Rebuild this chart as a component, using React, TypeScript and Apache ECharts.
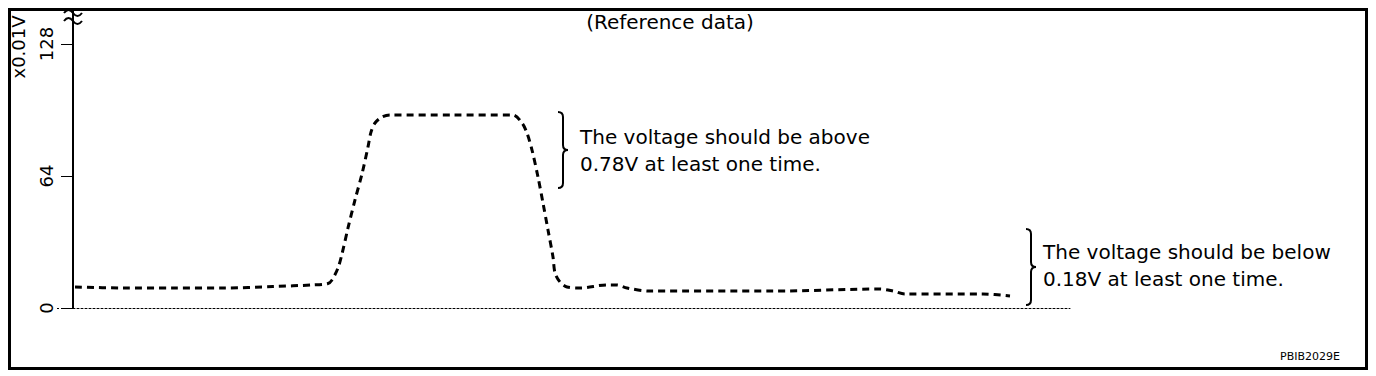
import React, { useEffect, useRef } from "react";
import * as echarts from "echarts";

// Time in arbitrary sample units along the horizontal axis
const timeSteps = [
  2, 50, 100, 150, 200, 240, 255, 259, 265, 269, 275, 282, 289, 295, 298, 302, 309, 317,
  380, 440, 449, 454, 459, 465, 470, 475, 480, 482, 487, 494, 507, 534, 544, 554, 577, 700,
  807, 820, 832, 910, 937,
];
// Sensor voltage (x0.01V)
const voltage = [
  10.2, 9.7, 9.7, 9.7, 10.4, 11.2, 11.9, 13.6, 19.4, 26.2, 38.8, 52.4, 65.0, 78.1, 85.3, 89.7, 92.6, 93.6,
  93.6, 93.6, 89.7, 84.8, 76.6, 63.5, 50.9, 37.8, 24.7, 17.0, 12.6, 10.2, 9.7, 11.2, 11.2, 9.7, 8.2, 8.2,
  9.2, 8.2, 6.8, 6.8, 5.8,
];
const yTicks = [0, 64, 128];
const yUnit = "x0.01V";
const titleText = "(Reference data)";
const noteAbove = ["The voltage should be above", "0.78V at least one time."];
const noteBelow = ["The voltage should be below", "0.18V at least one time."];
const figureCode = "PBIB2029E";

const FONT = "DejaVu Sans";

echarts.graphic.registerShape(
  "brace",
  (echarts.graphic as any).extendPath("M0 0 Q5 0 5 5 L5 33 Q5 38 10 38 Q5 38 5 43 L5 71 Q5 76 0 76", {})
);
echarts.graphic.registerShape(
  "tilde",
  (echarts.graphic as any).extendPath("M0 4 C3 0 6 0 9 4 C12 8 15 8 18 4", {})
);

export default function App() {
  const ref = useRef<HTMLDivElement>(null);

  useEffect(() => {
    if (!ref.current) return;
    const chart = echarts.init(ref.current, undefined, { renderer: "svg" });
    const black = "#000";
    const textStyle = (t: string, size = 20) => ({
      text: t,
      fill: black,
      fontSize: size,
      fontFamily: FONT,
    });
    chart.setOption({
      animation: false,
      backgroundColor: "#fff",
      grid: { left: 73, right: 306, top: 44, bottom: 68, containLabel: false },
      xAxis: {
        type: "value",
        min: 0,
        max: 997,
        axisLine: { show: true, onZero: true, lineStyle: { color: black, width: 1, type: [2, 2] } },
        axisTick: { show: false },
        axisLabel: { show: false },
        splitLine: { show: false },
      },
      yAxis: {
        type: "value",
        min: yTicks[0],
        max: yTicks[yTicks.length - 1],
        interval: yTicks[1] - yTicks[0],
        axisLine: { show: true, lineStyle: { color: black, width: 2 } },
        axisTick: { show: true, length: 12, lineStyle: { color: black, width: 1 } },
        axisLabel: {
          rotate: 90,
          fontSize: 18,
          color: black,
          fontFamily: FONT,
          margin: 18,
        },
        splitLine: { show: false },
      },
      series: [
        {
          type: "line",
          data: timeSteps.map((t, i) => [t, voltage[i]]),
          smooth: 0.3,
          showSymbol: false,
          lineStyle: { color: black, width: 3, type: [7, 5] },
        },
      ],
      graphic: [
        {
          type: "rect",
          shape: { x: 9.5, y: 9.5, width: 1357, height: 359 },
          style: { fill: "none", stroke: black, lineWidth: 3 },
          silent: true,
        },
        {
          type: "line",
          shape: { x1: 73, y1: 10, x2: 73, y2: 44 },
          style: { stroke: black, lineWidth: 2 },
        },
        {
          type: "line",
          shape: { x1: 57, y1: 308.5, x2: 73, y2: 308.5 },
          style: { stroke: black, lineWidth: 1, lineDash: [2, 2] },
        },
        { type: "tilde", x: 64, y: 9, style: { fill: "none", stroke: black, lineWidth: 2 } },
        { type: "tilde", x: 64, y: 17, style: { fill: "none", stroke: black, lineWidth: 2 } },
        {
          type: "text",
          x: 18,
          y: 47,
          rotation: Math.PI / 2,
          style: { ...textStyle(yUnit, 18), align: "center", verticalAlign: "middle" },
        },
        {
          type: "text",
          x: 670,
          y: 22,
          style: { ...textStyle(titleText), align: "center", verticalAlign: "middle" },
        },
        { type: "brace", x: 558, y: 112, style: { fill: "none", stroke: black, lineWidth: 2 } },
        {
          type: "text",
          x: 580,
          y: 137,
          style: { ...textStyle(noteAbove[0]), verticalAlign: "middle" },
        },
        {
          type: "text",
          x: 580,
          y: 164,
          style: { ...textStyle(noteAbove[1]), verticalAlign: "middle" },
        },
        { type: "brace", x: 1026, y: 229, style: { fill: "none", stroke: black, lineWidth: 2 } },
        {
          type: "text",
          x: 1043,
          y: 252,
          style: { ...textStyle(noteBelow[0]), verticalAlign: "middle" },
        },
        {
          type: "text",
          x: 1043,
          y: 279,
          style: { ...textStyle(noteBelow[1]), verticalAlign: "middle" },
        },
        {
          type: "text",
          x: 1340,
          y: 356,
          style: { ...textStyle(figureCode, 11), align: "right", verticalAlign: "middle" },
        },
      ],
    });
    return () => chart.dispose();
  }, []);

  return (
    <div
      ref={ref}
      style={{ position: "fixed", left: 0, top: 0, width: 1376, height: 376, background: "#fff" }}
    />
  );
}
